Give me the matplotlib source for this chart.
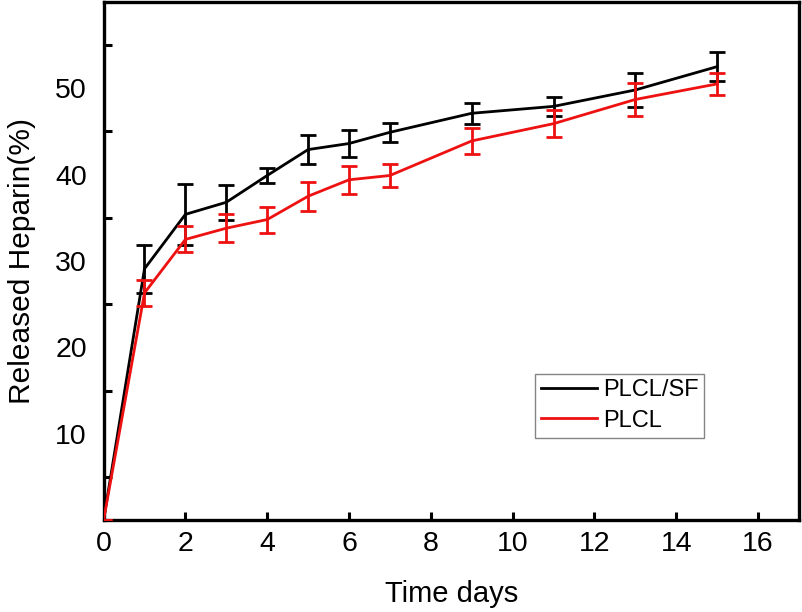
import matplotlib
matplotlib.use("Agg")
import matplotlib.pyplot as plt
from matplotlib.ticker import FixedLocator
from matplotlib.lines import Line2D

plt.rcParams['font.family'] = ['Liberation Sans', 'DejaVu Sans']

time_days = [0, 1, 2, 3, 4, 5, 6, 7, 9, 11, 13, 15]
plcl_sf = [0, 29.1, 35.4, 36.8, 39.9, 42.9, 43.6, 44.9, 47.1, 47.9, 49.8, 52.5]
plcl_sf_err = [0, 2.8, 3.5, 2.0, 0.9, 1.7, 1.6, 1.1, 1.2, 1.1, 2.0, 1.7]
plcl = [0, 26.3, 32.5, 33.8, 34.8, 37.5, 39.4, 39.9, 43.9, 45.9, 48.7, 50.5]
plcl_err = [0, 1.5, 1.5, 1.6, 1.5, 1.7, 1.6, 1.3, 1.5, 1.6, 1.9, 1.3]

x_ticks = [0, 2, 4, 6, 8, 10, 12, 14, 16]
y_ticks = [10, 20, 30, 40, 50]
y_minor = [5, 15, 25, 35, 45, 55]

black = 'black'
red = '#ee1111'

fig = plt.figure(figsize=(8.03, 6.12), dpi=100)
ax = fig.add_axes([0.129, 0.150, 0.866, 0.847])

ax.errorbar(time_days, plcl_sf, yerr=plcl_sf_err, color=black, lw=2.0,
            elinewidth=2.0, capsize=6, capthick=2.0, zorder=3)
ax.errorbar(time_days, plcl, yerr=plcl_err, color=red, lw=2.0,
            elinewidth=2.0, capsize=6, capthick=2.0, zorder=4)

ax.set_xlim(0, 17)
ax.set_ylim(0, 60)
ax.set_xticks(x_ticks)
ax.set_yticks(y_ticks)
ax.yaxis.set_minor_locator(FixedLocator(y_minor))
ax.tick_params(axis='x', direction='in', length=6, width=2.2, labelsize=20.5, pad=8)
ax.tick_params(axis='y', which='major', direction='in', length=0, labelsize=20.5, pad=12)
ax.tick_params(axis='y', which='minor', direction='in', length=6, width=2.2)
for s in ax.spines.values():
    s.set_linewidth(2.4)

ax.set_xlabel('Time days', fontsize=21, labelpad=16)
ax.set_ylabel('Released Heparin(%)', fontsize=21.5, labelpad=14)

handles = [Line2D([], [], color=black, lw=2.0), Line2D([], [], color=red, lw=2.0)]
labels = ['PLCL/SF', 'PLCL']
leg = ax.legend(handles, labels, loc='upper left', bbox_to_anchor=(0.621, 0.283),
                fontsize=17, frameon=True, fancybox=False, edgecolor='#666666',
                handlelength=2.35, borderpad=0.25, labelspacing=0.35,
                handletextpad=0.25, borderaxespad=0.0)
leg.get_frame().set_linewidth(1.0)

fig.savefig('out.png', dpi=100)
